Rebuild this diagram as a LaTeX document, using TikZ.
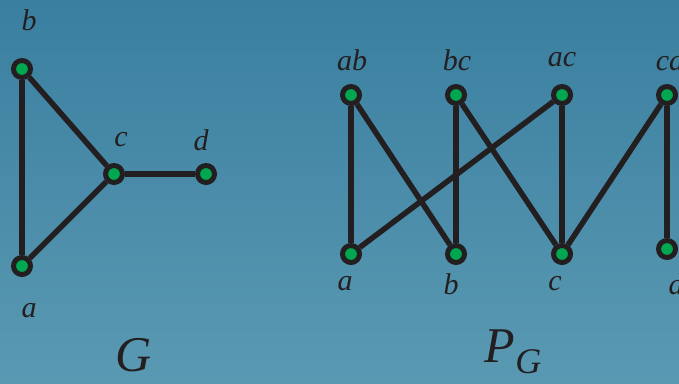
\documentclass[tikz,border=0pt]{standalone}
\usepackage{tikz}
\usepackage{fontspec}
\setmainfont{Liberation Serif}

\definecolor{bgtop}{RGB}{58,127,160}
\definecolor{bgbot}{RGB}{90,153,178}
\definecolor{vgreen}{RGB}{0,166,80}
\definecolor{edgeblk}{RGB}{35,31,32}

\tikzset{
  vertex/.style={circle,draw=edgeblk,fill=vgreen,line width=5pt,minimum size=17pt,inner sep=0pt},
  edge/.style={line width=5.5pt,draw=edgeblk},
  lbl/.style={text=edgeblk,font=\fontsize{30}{30}\selectfont\itshape,inner sep=0pt},
  title/.style={text=edgeblk,font=\fontsize{50}{50}\selectfont\itshape,inner sep=0pt}
}

\begin{document}
\begin{tikzpicture}[x=1pt,y=-1pt]
\useasboundingbox (0,0) rectangle (679,383);
\shade[top color=bgtop,bottom color=bgbot] (0,0) rectangle (679,383);

% graph G
\node[vertex] (b) at (22,69) {};
\node[vertex] (c) at (114,174) {};
\node[vertex] (d) at (206,174) {};
\node[vertex] (a) at (22,266) {};

\draw[edge] (a) -- (b);
\draw[edge] (b) -- (c);
\draw[edge] (a) -- (c);
\draw[edge] (c) -- (d);

\node[lbl] (la) at (29,311) {a};
\node[lbl] (lb) at (29,20) {b};
\node[lbl] (lc) at (121,140) {c};
\node[lbl] (ld) at (201,140) {d};
\node[title] (tG) at (134,355) {G};

% graph P_G
\node[vertex] (pab) at (351,95) {};
\node[vertex] (pbc) at (456,95) {};
\node[vertex] (pac) at (562,95) {};
\node[vertex] (pcd) at (667,95) {};
\node[vertex] (pa) at (351,254) {};
\node[vertex] (pb) at (456,254) {};
\node[vertex] (pc) at (562,254) {};
\node[vertex] (pd) at (667,249) {};

\draw[edge] (pab) -- (pa);
\draw[edge] (pab) -- (pb);
\draw[edge] (pbc) -- (pb);
\draw[edge] (pbc) -- (pc);
\draw[edge] (pac) -- (pa);
\draw[edge] (pac) -- (pc);
\draw[edge] (pcd) -- (pc);
\draw[edge] (pcd) -- (pd);

\node[lbl] (lab) at (352,60) {ab};
\node[lbl] (lbc) at (457,60) {bc};
\node[lbl] (lac) at (562,60) {ac};
\node[lbl] (lcd) at (670,60) {cd};
\node[lbl] (lpa) at (345,284) {a};
\node[lbl] (lpb) at (451,284) {b};
\node[lbl] (lpc) at (555,284) {c};
\node[lbl] (lpd) at (676,284) {d};
\node[title] (tPG) at (513,352) {P\raisebox{-0.22em}{\fontsize{36}{36}\selectfont G}};
\end{tikzpicture}
\end{document}
